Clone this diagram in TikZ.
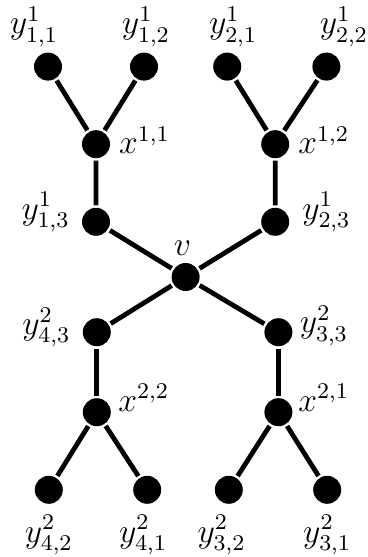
\documentclass[tikz,border=0pt]{standalone}
\usepackage{amsmath}
\usepackage{amssymb}
\usepackage{tikz}
\usetikzlibrary{calc}

\tikzset{vtx/.style={circle,fill,inner sep=0pt,minimum size=3.5mm},
         every label/.style={font=\large,inner sep=1pt}}

\begin{document}
\begin{tikzpicture}[line width=1.7pt]
                      \useasboundingbox (0,0) rectangle (4.6,6.9625);
                      % upper half
                      \node[vtx,label={[xshift=-1.75mm,label distance=-0.2mm]above:$y^1_{1,1}$}](y11)at(0.6,6.13){};
                      \node[vtx,label={[xshift=0.25mm,label distance=-0.2mm]above:$y^1_{1,2}$}](y12)at(1.8,6.13){};
                      \node[vtx,label={[xshift=0.75mm,label distance=-0.2mm]above:$y^1_{2,1}$}](y21)at(2.84,6.13){};
                      \node[vtx,label={[xshift=2.2mm,label distance=-0.2mm]above:$y^1_{2,2}$}](y22)at(4.08,6.13){};
                      \node[vtx,label={[yshift=0.5mm,label distance=0.2mm]right:$x^{1,1}$}](x11)at(1.2,5.16){};
                      \node[vtx,label={[yshift=0.5mm,label distance=0.2mm]right:$x^{1,2}$}](x12)at(3.44,5.16){};
                      \node[vtx,label={[yshift=1.2mm,label distance=0.6mm]left:$y^1_{1,3}$}](y13)at(1.2,4.19){};
                      \node[vtx,label={[yshift=1.2mm,label distance=0.7mm]right:$y^1_{2,3}$}](y23)at(3.44,4.19){};
                      % centre
                      \node[vtx,label={[xshift=-0.4mm]above:$v$}](v)at(2.32,3.5){};
                      % lower half
                      \node[vtx,label={[yshift=0.6mm,label distance=0.6mm]left:$y^2_{4,3}$}](y43)at(1.21,2.81){};
                      \node[vtx,label={[yshift=0.8mm]right:$y^2_{3,3}$}](y33)at(3.48,2.81){};
                      \node[vtx,label={[yshift=1.8mm]right:$x^{2,2}$}](x22)at(1.21,1.81){};
                      \node[vtx,label={[yshift=1.8mm,label distance=-0.2mm]right:$x^{2,1}$}](x21)at(3.48,1.81){};
                      \node[vtx,label={[label distance=0.5mm]below:$y^2_{4,2}$}](y42)at(0.61,0.84){};
                      \node[vtx,label={[xshift=-0.5mm,label distance=0.5mm]below:$y^2_{4,1}$}](y41)at(1.84,0.84){};
                      \node[vtx,label={[xshift=-0.9mm,label distance=0.5mm]below:$y^2_{3,2}$}](y32)at(2.86,0.84){};
                      \node[vtx,label={[label distance=0.5mm]below:$y^2_{3,1}$}](y31)at(4.09,0.84){};
                      % edges
                      \draw (y11)--(x11)--(y12);
                      \draw (y21)--(x12)--(y22);
                      \draw (x11)--(y13)--(v)--(y23)--(x12);
                      \draw (y43)--(v)--(y33);
                      \draw (y42)--(x22)--(y41);
                      \draw (y32)--(x21)--(y31);
                      \draw (y43)--(x22);
                      \draw (y33)--(x21);
                  \end{tikzpicture}
\end{document}
